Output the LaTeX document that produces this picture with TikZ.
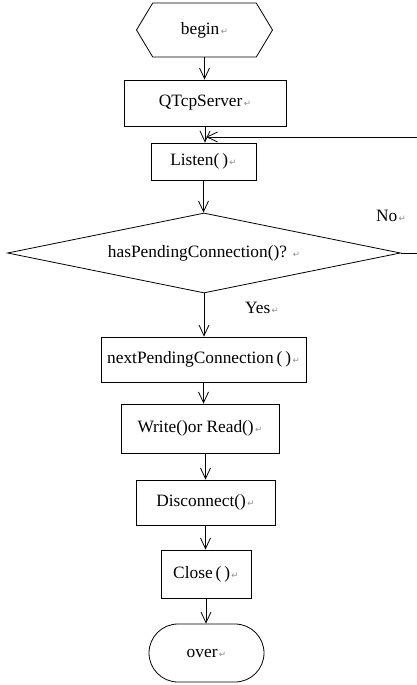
\documentclass[tikz,border=0pt]{standalone}
\usepackage{fontspec}
\setmainfont{Liberation Serif}
\newfontfamily\symfont{DejaVu Sans}
\usepackage{tikz}
\usetikzlibrary{arrows.meta,positioning,calc,shapes.geometric,shapes.symbols,shapes.misc}

% Word paragraph mark after each label
\newcommand{\retmark}{{\symfont\color{black!45}\fontsize{6.5}{7}\selectfont\,↵}}

\begin{document}
\begin{tikzpicture}[x=0.75pt, y=-0.75pt,
    font=\fontsize{13}{15}\selectfont,
    every node/.style={inner sep=0pt},
    box/.style={draw, line width=0.6pt, rectangle},
    flow/.style={-{Straight Barb[length=8pt, width=7.5pt, line width=0.6pt]}, line width=0.6pt}]
    \useasboundingbox (0,0) rectangle (417,685);

    % Start and the server set-up
    \node[draw, line width=0.6pt, signal, signal to=west and east, signal pointer angle=118,
        minimum width=102pt, minimum height=40.5pt] (begin) at (204.5,30) {begin\retmark};
    \node[box, minimum width=121.5pt, minimum height=34.5pt] (server) at (205,103) {QTcpServer\retmark};
    \node[box, minimum width=78.75pt, minimum height=27.75pt] (listen) at (203.5,161.5) {Listen(\,)\retmark};

    % Test for a waiting client
    \node[draw, line width=0.6pt, diamond, aspect=4.9, minimum width=294.75pt, minimum height=60pt]
        (cond) at (204,253) {hasPendingConnection()?\ \retmark};
    \node (no) at (391,216) {No\retmark};
    \node (yes) at (262,308) {Yes\retmark};

    % Talking to the client
    \node[box, minimum width=153.75pt, minimum height=33.75pt] (next) at (203.5,359.5) {nextPendingConnection\,(\,)\retmark};
    \node[box, minimum width=118.5pt, minimum height=36.75pt] (rw) at (200,428.5) {Write()or Read()\retmark};
    \node[box, minimum width=104.25pt, minimum height=33.75pt] (disc) at (205.5,502.5) {Disconnect()\retmark};
    \node[box, minimum width=67.5pt, minimum height=36pt] (close) at (206,574) {Close\,(\,)\retmark};
    \node[draw, line width=0.6pt, rounded rectangle, minimum width=86.25pt, minimum height=43.5pt]
        (over) at (206.5,653) {over\retmark};

    \draw[flow] (begin.south) -- (server.north -| begin.south);
    \draw[flow] (server.south) -- (listen.north -| server.south);
    \draw[flow] (listen.south) -- (cond.north -| listen.south);
    \draw[flow] (cond.south) -- (next.north -| cond.south);
    \draw[flow] (next.south) -- (rw.north -| next.south);
    \draw[flow] (disc.north |- rw.south) -- (disc.north);
    \draw[flow] (disc.south) -- (close.north -| disc.south);
    \draw[flow] (close.south) -- (over.north -| close.south);

    % No: back to Listen()
    \coordinate (back) at (206,137);
    \draw[flow] (cond.east) -- ++(17,0) |- (back);
\end{tikzpicture}
\end{document}
